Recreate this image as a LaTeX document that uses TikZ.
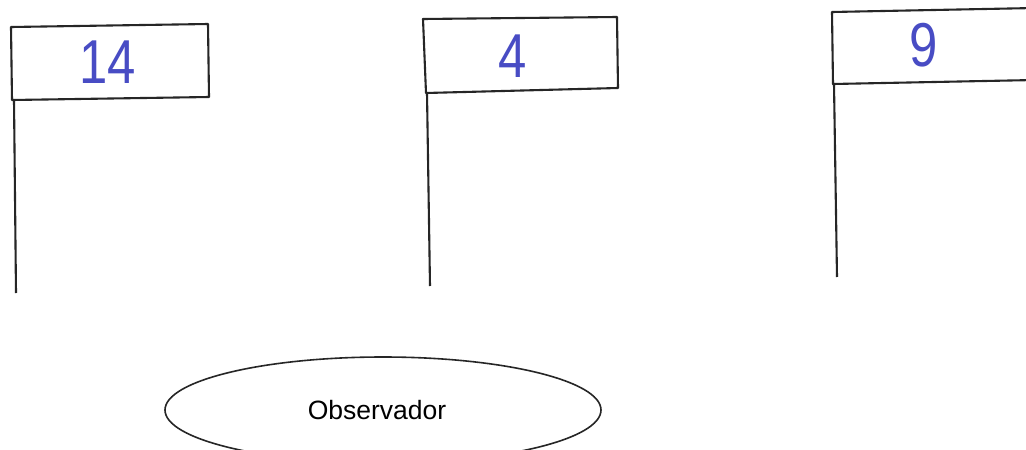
\documentclass[tikz,border=0pt]{standalone}
\usepackage{fontspec}
\setmainfont{Liberation Sans}
\usetikzlibrary{shapes.geometric}
\definecolor{ink}{RGB}{72,76,196}
\tikzset{
  flagline/.style={draw=black!85, line width=2.1pt, line join=round},
  pole/.style={draw=black!85, line width=2.1pt},
  hand/.style={text=ink, font=\fontsize{62}{62}\selectfont, xscale=0.82, inner sep=0pt},
  obsbox/.style={ellipse, draw=black!85, line width=1.6pt, minimum width=436pt, minimum height=106pt, font=\fontsize{26.5}{26.5}\selectfont, inner sep=0pt}
}
\begin{document}
\begin{tikzpicture}[x=1pt,y=-1pt]
\clip (0,0) rectangle (1026,450);
\fill[white] (0,0) rectangle (1026,450);
% flag 1
\coordinate (a1) at (11,27); \coordinate (b1) at (208,24);
\coordinate (c1) at (209,97); \coordinate (d1) at (12,100);
\coordinate (p1) at (14,100); \coordinate (e1) at (16,293);
\draw[flagline] (a1) -- (b1) -- (c1) -- (d1) -- cycle;
\draw[pole] (p1) -- (e1);
\node[hand] (n14) at (108,62) {14};
% flag 2
\coordinate (a2) at (423,19); \coordinate (b2) at (617,17);
\coordinate (c2) at (618,88); \coordinate (d2) at (426,93);
\coordinate (p2) at (427,93); \coordinate (e2) at (430,286);
\draw[flagline] (a2) -- (b2) -- (c2) -- (d2) -- cycle;
\draw[pole] (p2) -- (e2);
\node[hand] (n4) at (513,56) {4};
% flag 3
\coordinate (a3) at (832,12); \coordinate (b3) at (1035,8);
\coordinate (c3) at (1035,80); \coordinate (d3) at (833,84);
\coordinate (p3) at (834,84); \coordinate (e3) at (837,277);
\draw[flagline] (b3) -- (a3) -- (d3) -- (c3);
\draw[pole] (p3) -- (e3);
\node[hand] (n9) at (924,45) {9};
% observer
\node[obsbox] (obs) at (383,410) {Observador\hspace*{12pt}};
\end{tikzpicture}
\end{document}
